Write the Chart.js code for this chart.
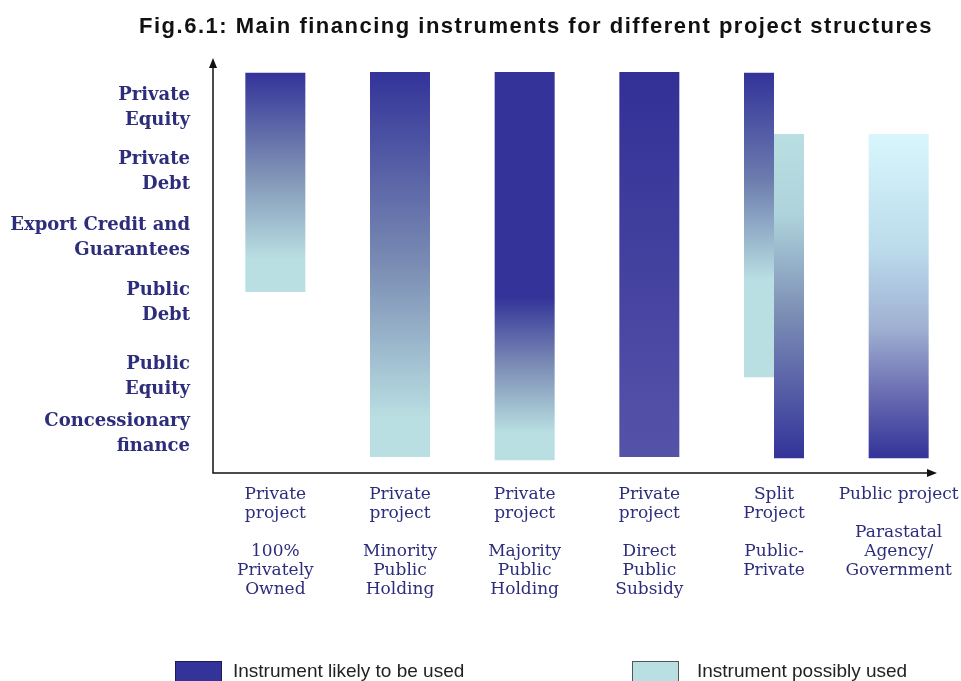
<!DOCTYPE html>
<html>
<head>
<meta charset="utf-8">
<title>Fig.6.1</title>
<style>
  html, body { margin: 0; padding: 0; background: #ffffff; }
  #wrap { width: 961px; height: 681px; position: relative; }
</style>
<script src="https://cdn.jsdelivr.net/npm/chart.js@4.4.1/dist/chart.umd.min.js"></script>
</head>
<body>
<div id="wrap"><canvas id="fig"></canvas></div>
<script>
const TITLE = "Fig.6.1: Main financing instruments for different project structures";

// project structures along the x axis
const projects = [
    ["Private", "project", "", "100%", "Privately", "Owned"],
    ["Private", "project", "", "Minority", "Public", "Holding"],
    ["Private", "project", "", "Majority", "Public", "Holding"],
    ["Private", "project", "", "Direct", "Public", "Subsidy"],
    ["Split", "Project", "", "Public-", "Private"],
    ["Public project", "", "Parastatal", "Agency/", "Government"]
];

// financing instruments up the y axis (0 = axis origin, 100 = top)
const instruments = [
    ["Private", "Equity"],
    ["Private", "Debt"],
    ["Export Credit and", "Guarantees"],
    ["Public", "Debt"],
    ["Public", "Equity"],
    ["Concessionary", "finance"]
];
const instrumentLevels = [88.4, 72.9, 56.9, 41.2, 23.2, 9.4];

// [from, to] on the instrument scale
const likelyRanges = [[43.8, 96.9], [3.9, 97.1], [3.1, 97.1], [3.9, 97.1], [23.2, 96.9], null];
const possibleRanges = [null, null, null, null, [3.6, 82.1], [3.6, 82.1]];

const legendLabels = ["Instrument likely to be used", "Instrument possibly used"];

const DARK = "#333399";
const LIGHT = "#b9dfe2";
const TEXT = "#2d2d7c";

// gradient stops, top (0) to bottom (1) of each bar
const likelyShades = [
    [[0, DARK], [0.45, "#7d90b4"], [0.85, LIGHT], [1, LIGHT]],
    [[0, DARK], [0.5, "#7a8cb3"], [0.9, LIGHT], [1, LIGHT]],
    [[0, DARK], [0.58, DARK], [0.76, "#7d8fb6"], [0.93, LIGHT], [1, LIGHT]],
    [[0, "#323096"], [1, "#5553a8"]],
    [[0, DARK], [0.35, "#6c7cae"], [0.68, LIGHT], [1, LIGHT]],
    null
];
const possibleShades = [
    null, null, null, null,
    [[0, LIGHT], [0.25, "#aed3dc"], [0.55, "#7d8fb5"], [1, DARK]],
    [[0, "#d8f6fc"], [0.35, "#bcdcec"], [0.6, "#9fb0d2"], [0.8, "#6a6db2"], [1, DARK]]
];

function shade(stops) {
    return (c) => {
        const chart = c.chart;
        const range = c.raw;
        const st = stops[c.dataIndex];
        if (!chart.chartArea || !range || !st) return DARK;
        const y = chart.scales.y;
        const g = chart.ctx.createLinearGradient(0, y.getPixelForValue(range[1]), 0, y.getPixelForValue(range[0]));
        st.forEach(([o, col]) => g.addColorStop(o, col));
        return g;
    };
}

// title, arrow axes and the legend row
const decor = {
    id: "decor",
    afterDraw(chart) {
        const { ctx, chartArea: a } = chart;
        ctx.save();

        ctx.fillStyle = "#111";
        ctx.font = "bold 22px 'Liberation Sans', Arial, sans-serif";
        ctx.letterSpacing = "1.5px";
        ctx.textAlign = "center";
        ctx.textBaseline = "middle";
        ctx.fillText(TITLE, 536, 27);
        ctx.letterSpacing = "0px";

        ctx.strokeStyle = "#111";
        ctx.lineWidth = 1.5;
        ctx.beginPath();
        ctx.moveTo(a.left, a.top + 6);
        ctx.lineTo(a.left, a.bottom);
        ctx.lineTo(a.right - 30, a.bottom);
        ctx.stroke();
        ctx.beginPath();
        ctx.moveTo(a.left - 4, a.top + 8);
        ctx.lineTo(a.left, a.top - 2);
        ctx.lineTo(a.left + 4, a.top + 8);
        ctx.fill();
        ctx.beginPath();
        ctx.moveTo(a.right - 34, a.bottom - 4);
        ctx.lineTo(a.right - 24, a.bottom);
        ctx.lineTo(a.right - 34, a.bottom + 4);
        ctx.fill();

        ctx.font = "19px 'Liberation Sans', Arial, sans-serif";
        ctx.textAlign = "left";
        const items = [
            { x: 175, fill: DARK, line: "#1c1c5c", text: legendLabels[0], tx: 233 },
            { x: 632, fill: LIGHT, line: "#555", text: legendLabels[1], tx: 697 }
        ];
        items.forEach(it => {
            ctx.fillStyle = it.fill;
            ctx.fillRect(it.x, 661, 46, 24);
            ctx.strokeStyle = it.line;
            ctx.lineWidth = 1;
            ctx.strokeRect(it.x + 0.5, 661.5, 46, 24);
            ctx.fillStyle = "#222";
            ctx.fillText(it.text, it.tx, 672);
        });
        ctx.restore();
    }
};

new Chart(document.getElementById("fig"), {
    type: "bar",
    data: {
        labels: projects,
        datasets: [
            {
                label: legendLabels[0],
                data: likelyRanges,
                backgroundColor: shade(likelyShades)
            },
            {
                label: legendLabels[1],
                data: possibleRanges,
                backgroundColor: shade(possibleShades)
            }
        ]
    },
    options: {
        responsive: true,
        maintainAspectRatio: false,
        animation: false,
        layout: { padding: { top: 60, bottom: 78, left: 0, right: 0 } },
        datasets: {
            bar: {
                skipNull: true,
                categoryPercentage: 0.4813,
                barPercentage: 1,
                borderWidth: 0,
                borderSkipped: false
            }
        },
        plugins: {
            legend: { display: false },
            title: { display: false },
            tooltip: { enabled: false }
        },
        scales: {
            x: {
                offset: true,
                grid: { display: false, drawTicks: false },
                border: { display: false },
                ticks: {
                    color: TEXT,
                    font: { family: "'DejaVu Serif', serif", size: 17, lineHeight: 1.12 },
                    padding: 12,
                    maxRotation: 0,
                    autoSkip: false
                },
                afterFit: (s) => {
                    s.height = 130;
                    s.paddingLeft = 0;
                    s.paddingRight = 0;
                }
            },
            y: {
                min: 0,
                max: 100,
                grid: { display: false, drawTicks: false },
                border: { display: false },
                afterBuildTicks: (s) => { s.ticks = instrumentLevels.map(v => ({ value: v })); },
                ticks: {
                    callback: (v, i) => instruments[i],
                    autoSkip: false,
                    padding: 23,
                    color: TEXT,
                    font: { family: "'DejaVu Serif', serif", weight: "bold", size: 18, lineHeight: 1.39 }
                },
                afterFit: (s) => { s.width = 213; }
            }
        }
    },
    plugins: [decor]
});
</script>
</body>
</html>
